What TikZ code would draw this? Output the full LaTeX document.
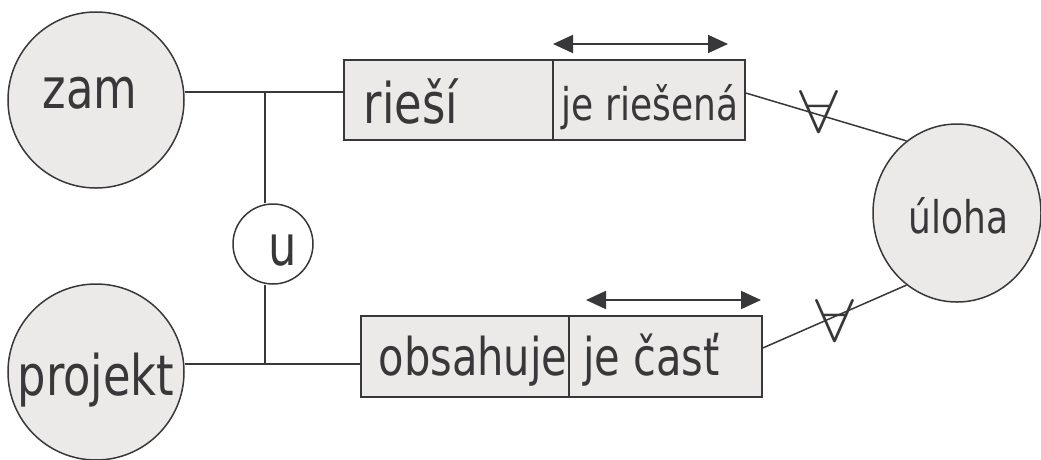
\documentclass[tikz,border=0pt]{standalone}
\usepackage{fontspec}
\setmainfont{DejaVu Sans}[FakeStretch=0.8]
\usetikzlibrary{arrows.meta,shapes.geometric}

\definecolor{ink}{HTML}{38383A}
\definecolor{paper}{HTML}{EBEAE8}

\tikzset{
  ent/.style={circle, draw=ink, fill=paper, line width=1.5pt, minimum size=176pt, inner sep=0pt},
  rel/.style={rectangle, draw=ink, fill=paper, line width=1.5pt, inner sep=0pt},
  lbl/.style={anchor=base, inner sep=0pt, text=ink},
  big/.style={lbl, font=\fontsize{56}{60}\selectfont},
  mid/.style={lbl, font=\fontsize{52}{56}\selectfont},
  small/.style={lbl, font=\fontsize{45}{50}\selectfont},
  quant/.style={lbl},
  link/.style={draw=ink, line width=1.5pt},
  dir/.style={draw=ink, line width=2pt,
    {Triangle[length=20pt,width=18pt]}-{Triangle[length=20pt,width=18pt]}},
}
% enlarged "for all" sign used as cardinality mark
\newcommand{\allmark}{\scalebox{7.0}[6.05]{$\forall$}}

\begin{document}
\begin{tikzpicture}[x=1pt,y=-1pt]
\useasboundingbox (0,0) rectangle (1041,459);
\fill[white] (0,0) rectangle (1041,459);

% entities
\node[ent] (zam) at (96,100) {};
\node[ent] (proj) at (96,372) {};
\node[ellipse, draw=ink, fill=paper, line width=1.5pt,
      minimum width=168pt, minimum height=178pt, inner sep=0pt] (ul) at (957,213) {};
\node[circle, draw=ink, fill=white, line width=1.5pt,
      minimum size=80pt, inner sep=0pt] (u) at (273,244) {};

% relationship boxes
\node[rel, minimum width=209pt, minimum height=80pt] (r1) at (448.5,100) {};
\node[rel, minimum width=192pt, minimum height=80pt] (r2) at (649,100) {};
\node[rel, minimum width=208pt, minimum height=81pt] (o1) at (465,356.5) {};
\node[rel, minimum width=193pt, minimum height=81pt] (o2) at (665.5,356.5) {};

% junctions of the connecting lines
\coordinate (jt) at (265,92);
\coordinate (jb) at (265,364);

\draw[link] (zam.east |- jt) -- (jt) -- (jt -| r1.west);
\draw[link] (jt) -- (jt |- u.north);
\draw[link] (jb |- u.south) -- (jb);
\draw[link] (proj.east |- jb) -- (jb) -- (jb -| o1.west);
\draw[link] ([yshift=7pt]r2.east) -- (ul.125);
\draw[link] ([yshift=8.5pt]o2.east) -- (ul.235);

% reading direction arrows
\coordinate (a1) at (553,44);
\coordinate (a2) at (728,44);
\coordinate (b1) at (586,300);
\coordinate (b2) at (761,300);
\draw[dir] (a1) -- (a2);
\draw[dir] (b1) -- (b2);

% labels
\node[big] (tzam) at (90,108) {zam};
\node[big] (tproj) at (96,395) {projekt};
\node[big] (tu) at (283,265) {u};
\node[big] (tr1) at (411,123) {rieší};
\node[small] (tr2) at (650,120) {je riešená};
\node[mid] (to1) at (473,375) {obsahuje};
\node[mid] (to2) at (651.5,375) {je časť};
\node[small] (tul) at (958.5,233) {úloha};

% quantifiers
\node[quant] (q1) at (819,132) {\allmark};
\node[quant] (q2) at (835,341) {\allmark};
\end{tikzpicture}
\end{document}
